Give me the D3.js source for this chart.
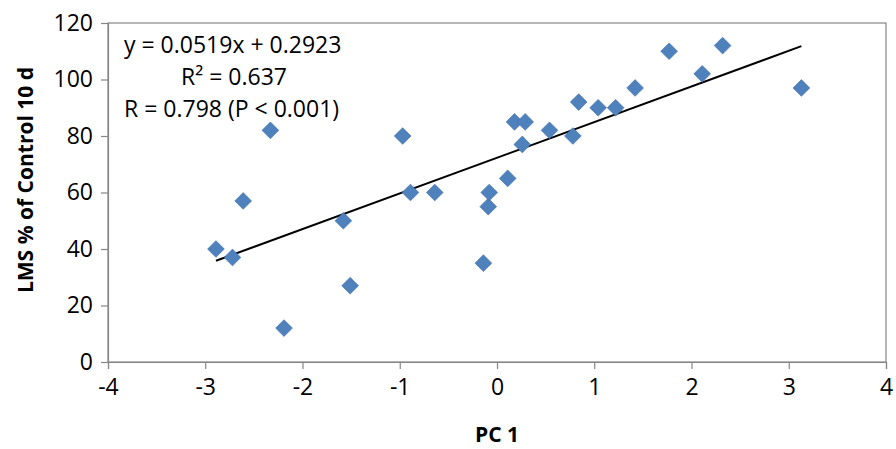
<!DOCTYPE html>
<html>
<head>
<meta charset="utf-8">
<script src="https://cdn.jsdelivr.net/npm/d3@7"></script>
<style>
  body { margin: 0; background: #fff; }
  text { font-family: "Open Sans", "Liberation Sans", sans-serif; }
</style>
</head>
<body>
<svg width="896" height="449"></svg>
<script>
const pc1 = [-2.89, -2.72, -2.61, -2.33, -2.19, -1.58, -1.51, -0.97, -0.89, -0.64, -0.14, -0.09, -0.08,
  0.11, 0.18, 0.26, 0.29, 0.54, 0.78, 0.84, 1.04, 1.22, 1.42, 1.77, 2.11, 2.32, 3.13]
const lms = [40, 37, 57, 82, 12, 50, 27, 80, 60, 60, 35, 55, 60,
  65, 85, 77, 85, 82, 80, 92, 90, 90, 97, 110, 102, 112, 97]
const xTicks = [-4, -3, -2, -1, 0, 1, 2, 3, 4]
const yTicks = [0, 20, 40, 60, 80, 100, 120]
const eqLines = ["y = 0.0519x + 0.2923", "R² = 0.637", "R = 0.798 (P < 0.001)"]

const svg = d3.select("svg")
const mLeft = 108, mRight = 886, mTop = 23, mBottom = 362
const x = d3.scaleLinear().domain([-4, 4]).range([mLeft, mRight])
const y = d3.scaleLinear().domain([0, 120]).range([mBottom, mTop])
const grey = "#868686"

// plot border
svg.append("rect")
  .attr("x", mLeft).attr("y", mTop)
  .attr("width", mRight - mLeft).attr("height", mBottom - mTop)
  .attr("fill", "none").attr("stroke", grey).attr("stroke-width", 1.2)

const xAxis = svg.append("g").attr("transform", `translate(0,${mBottom})`)
  .call(d3.axisBottom(x).tickValues(xTicks).tickSize(7).tickPadding(10).tickFormat(d => String(d)))
const yAxis = svg.append("g").attr("transform", `translate(${mLeft},0)`)
  .call(d3.axisLeft(y).tickValues(yTicks).tickSize(7).tickPadding(8))
for (const a of [xAxis, yAxis]) {
  a.attr("font-size", null).attr("font-family", null)
  a.select(".domain").attr("stroke", grey).attr("stroke-width", 1.2)
  a.selectAll(".tick line").attr("stroke", grey).attr("stroke-width", 1.2)
  a.selectAll(".tick text").attr("fill", "#000").attr("font-size", 23)
}

// least squares trend line
const mx = d3.mean(pc1), my = d3.mean(lms)
const slope = d3.sum(pc1, (v, i) => (v - mx) * (lms[i] - my)) / d3.sum(pc1, v => (v - mx) ** 2)
const icpt = my - slope * mx
const ext = d3.extent(pc1)
svg.append("line")
  .attr("x1", x(ext[0])).attr("y1", y(icpt + slope * ext[0]))
  .attr("x2", x(ext[1])).attr("y2", y(icpt + slope * ext[1]))
  .attr("stroke", "#000").attr("stroke-width", 2)

svg.append("g").selectAll("path").data(pc1).join("path")
  .attr("d", d3.symbol(d3.symbolSquare, 140))
  .attr("transform", (d, i) => `translate(${x(d)},${y(lms[i])}) rotate(45)`)
  .attr("fill", "#4f81bd").attr("stroke", "#3f6fa8").attr("stroke-width", 0.6)

const eq = svg.append("g")
eq.append("text").attr("x", 124).attr("y", 53).attr("font-size", 23).text(eqLines[0])
eq.append("text").attr("x", 181).attr("y", 85).attr("font-size", 23).text(eqLines[1])
eq.append("text").attr("x", 124).attr("y", 117).attr("font-size", 23).text(eqLines[2])

svg.append("text").attr("x", 497).attr("y", 442).attr("text-anchor", "middle")
  .attr("font-size", 21).attr("font-weight", "bold").text("PC 1")
svg.append("text").attr("transform", "translate(33,180) rotate(-90)").attr("text-anchor", "middle")
  .attr("font-size", 21).attr("font-weight", "bold").text("LMS % of Control 10 d")
</script>
</body>
</html>
